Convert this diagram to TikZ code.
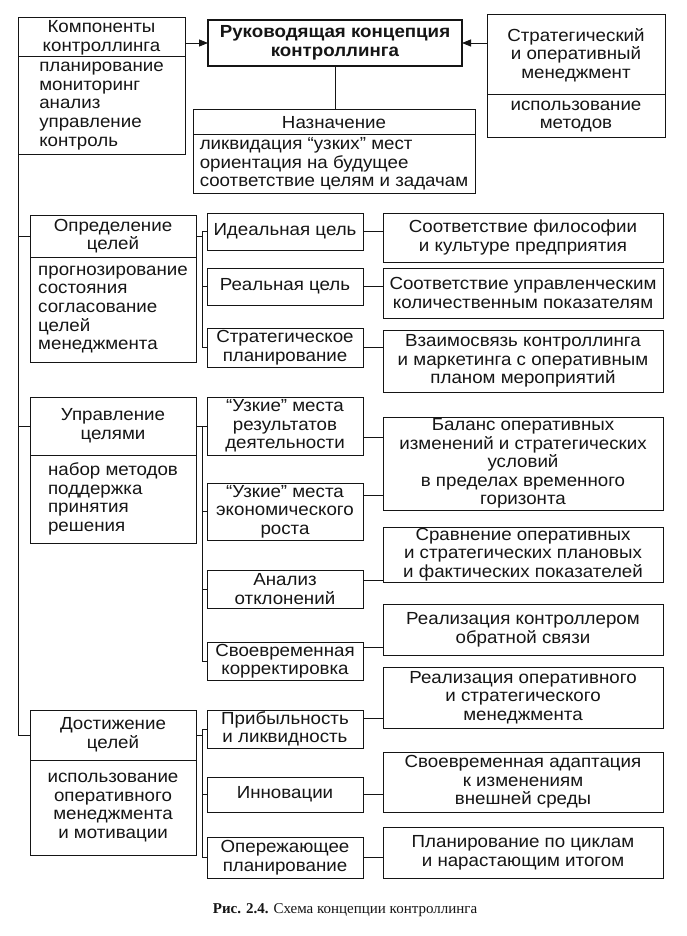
\documentclass[tikz,border=0pt]{standalone}
\usepackage{fontspec}
\setmainfont{Liberation Sans}[FakeStretch=1.07]
\newfontfamily\capserif{Liberation Serif}
\usepackage{tikz}
\usetikzlibrary{arrows.meta,positioning,calc}
\definecolor{SCANink}{HTML}{151515}
\definecolor{SCANpaper}{HTML}{FFFFFF}

\tikzset{
  cbox/.style={draw=SCANink, text=SCANink, line width=1pt, anchor=north west,
    inner xsep=2pt, inner ysep=0pt, outer sep=0pt, align=center,
    font=\fontsize{17.5}{18.6}\selectfont},
  cleft/.style={cbox, align=left},
  link/.style={draw=SCANink, line width=0.8pt},
}

\begin{document}
\begin{tikzpicture}[x=1pt, y=-1pt]
      \fill[SCANpaper] (0,0) rectangle (686,936);
      \useasboundingbox (0,0) rectangle (686,936);

      % top row
      \node[cbox, minimum width=167pt, minimum height=39pt] (kompH) at (18,18)
        {Компоненты\\контроллинга};
      \node[cleft, minimum width=167pt, minimum height=98pt] (kompB) at (18,57)
        {планирование\\мониторинг\\анализ\\управление\\контроль};
      \node[cbox, line width=1.7pt, minimum width=254pt, minimum height=46pt,
        font=\fontsize{17.5}{19}\selectfont\bfseries] (ruk) at (208,20)
        {Руководящая концепция\\контроллинга};
      \node[cbox, minimum width=178pt, minimum height=80pt] (stratH) at (487,15)
        {Стратегический\\и оперативный\\менеджмент};
      \node[cbox, minimum width=178pt, minimum height=43pt] (stratB) at (487,95)
        {использование\\методов};
      \node[cbox, minimum width=282pt, minimum height=25pt] (nazH) at (193,110)
        {Назначение};
      \node[cleft, minimum width=282pt, minimum height=58pt] (nazB) at (193,135)
        {ликвидация “узких” мест\\ориентация на будущее\\соответствие целям и задачам};

      % left column
      \node[cbox, minimum width=166pt, minimum height=42pt] (oprH) at (30,215)
        {Определение\\целей};
      \node[cleft, minimum width=166pt, minimum height=105pt] (oprB) at (30,257)
        {прогнозирование\\состояния\\согласование\\целей\\менеджмента};
      \node[cbox, minimum width=166pt, minimum height=58pt] (uprH) at (30,397)
        {Управление\\целями};
      \node[cleft, minimum width=166pt, minimum height=88pt] (uprB) at (30,455)
        {набор методов\\поддержка\\принятия\\решения};
      \node[cbox, minimum width=166pt, minimum height=50pt] (dostH) at (30,710)
        {Достижение\\целей};
      \node[cbox, minimum width=166pt, minimum height=95pt] (dostB) at (30,760)
        {использование\\оперативного\\менеджмента\\и мотивации};

      % middle column
      \node[cbox, minimum width=156pt, minimum height=37pt] (ideal) at (207,213) {Идеальная цель};
      \node[cbox, minimum width=156pt, minimum height=37pt] (real) at (207,268) {Реальная цель};
      \node[cbox, minimum width=156pt, minimum height=39pt] (strpl) at (207,328)
        {Стратегическое\\планирование};
      \node[cbox, minimum width=156pt, minimum height=58pt] (uzk1) at (207,397)
        {“Узкие” места\\результатов\\деятельности};
      \node[cbox, minimum width=156pt, minimum height=57pt] (uzk2) at (207,483)
        {“Узкие” места\\экономического\\роста};
      \node[cbox, minimum width=156pt, minimum height=38pt] (anal) at (207,570)
        {Анализ\\отклонений};
      \node[cbox, minimum width=156pt, minimum height=38pt] (svkor) at (207,642)
        {Своевременная\\корректировка};
      \node[cbox, minimum width=156pt, minimum height=38pt] (prib) at (207,710)
        {Прибыльность\\и ликвидность};
      \node[cbox, minimum width=156pt, minimum height=35pt] (innov) at (207,777) {Инновации};
      \node[cbox, minimum width=156pt, minimum height=41pt] (operezh) at (207,837)
        {Опережающее\\планирование};

      % right column
      \node[cbox, minimum width=280pt, minimum height=49pt] (filos) at (383,213)
        {Соответствие философии\\и культуре предприятия};
      \node[cbox, minimum width=280pt, minimum height=50pt] (koln) at (383,268)
        {Соответствие управленческим\\количественным показателям};
      \node[cbox, minimum width=280pt, minimum height=62pt] (vzaim) at (383,330)
        {Взаимосвязь контроллинга\\и маркетинга с оперативным\\планом мероприятий};
      \node[cbox, minimum width=280pt, minimum height=93pt] (balans) at (383,417)
        {Баланс оперативных\\изменений и стратегических\\условий\\в пределах временного\\горизонта};
      \node[cbox, minimum width=280pt, minimum height=55pt] (sravn) at (383,527)
        {Сравнение оперативных\\и стратегических плановых\\и фактических показателей};
      \node[cbox, minimum width=280pt, minimum height=51pt] (realk) at (383,604)
        {Реализация контроллером\\обратной связи};
      \node[cbox, minimum width=280pt, minimum height=61pt] (realo) at (383,667)
        {Реализация оперативного\\и стратегического\\менеджмента};
      \node[cbox, minimum width=280pt, minimum height=60pt] (adapt) at (383,752)
        {Своевременная адаптация\\к изменениям\\внешней среды};
      \node[cbox, minimum width=280pt, minimum height=51pt] (cikl) at (383,827)
        {Планирование по циклам\\и нарастающим итогом};

      % connectors at the top
      \draw[link, -{Triangle[length=9pt,width=7pt]}] (ruk.west -| kompH.east) -- (ruk.west);
      \draw[link, -{Triangle[length=9pt,width=7pt]}] (ruk.east -| stratH.west) -- (ruk.east);
      \draw[link] (ruk.south) -- (ruk.south |- nazH.north);

      % left spine
      \draw[link] (kompB.south west) |- (dostH.west);
      \draw[link] (kompB.south west |- oprH.west) -- (oprH.west);
      \draw[link] (kompB.south west |- uprH.west) -- (uprH.west);

      % buses to the middle column
      \draw[link] (oprH.east) -- ++(6,0);
      \draw[link] (ideal.west) -- ++(-5,0) |- (strpl.west);
      \draw[link] (real.west) -- ++(-5,0);
      \draw[link] (uprH.east) -- ++(6,0);
      \draw[link] (uzk1.west) -- ++(-5,0) |- (svkor.west);
      \draw[link] (uzk2.west) -- ++(-5,0);
      \draw[link] (anal.west) -- ++(-5,0);
      \draw[link] (dostH.east) -- ++(6,0);
      \draw[link] (prib.west) -- ++(-5,0) |- (operezh.west);
      \draw[link] (innov.west) -- ++(-5,0);

      % middle to right
      \draw[link] (ideal.east) -- (ideal.east -| filos.west);
      \draw[link] (real.east) -- (real.east -| koln.west);
      \draw[link] (strpl.east) -- (strpl.east -| vzaim.west);
      \draw[link] ([yshift=-11pt]uzk1.east) -- ([yshift=-11pt]uzk1.east -| balans.west);
      \draw[link] ([yshift=16pt]uzk2.east) -- ([yshift=16pt]uzk2.east -| balans.west);
      \draw[link] ([yshift=9pt]anal.east) -- ([yshift=9pt]anal.east -| sravn.west);
      \draw[link] ([yshift=14pt]svkor.east) -- ([yshift=14pt]svkor.east -| realk.west);
      \draw[link] ([yshift=11pt]prib.east) -- ([yshift=11pt]prib.east -| realo.west);
      \draw[link] (innov.east) -- (innov.east -| adapt.west);
      \draw[link] (operezh.east) -- (operezh.east -| cikl.west);

      \node[text=SCANink, font=\capserif\fontsize{15}{18}\selectfont] (caption) at (345,910)
        {\textbf{Рис. 2.4.} Схема концепции контроллинга};
    \end{tikzpicture}
\end{document}
